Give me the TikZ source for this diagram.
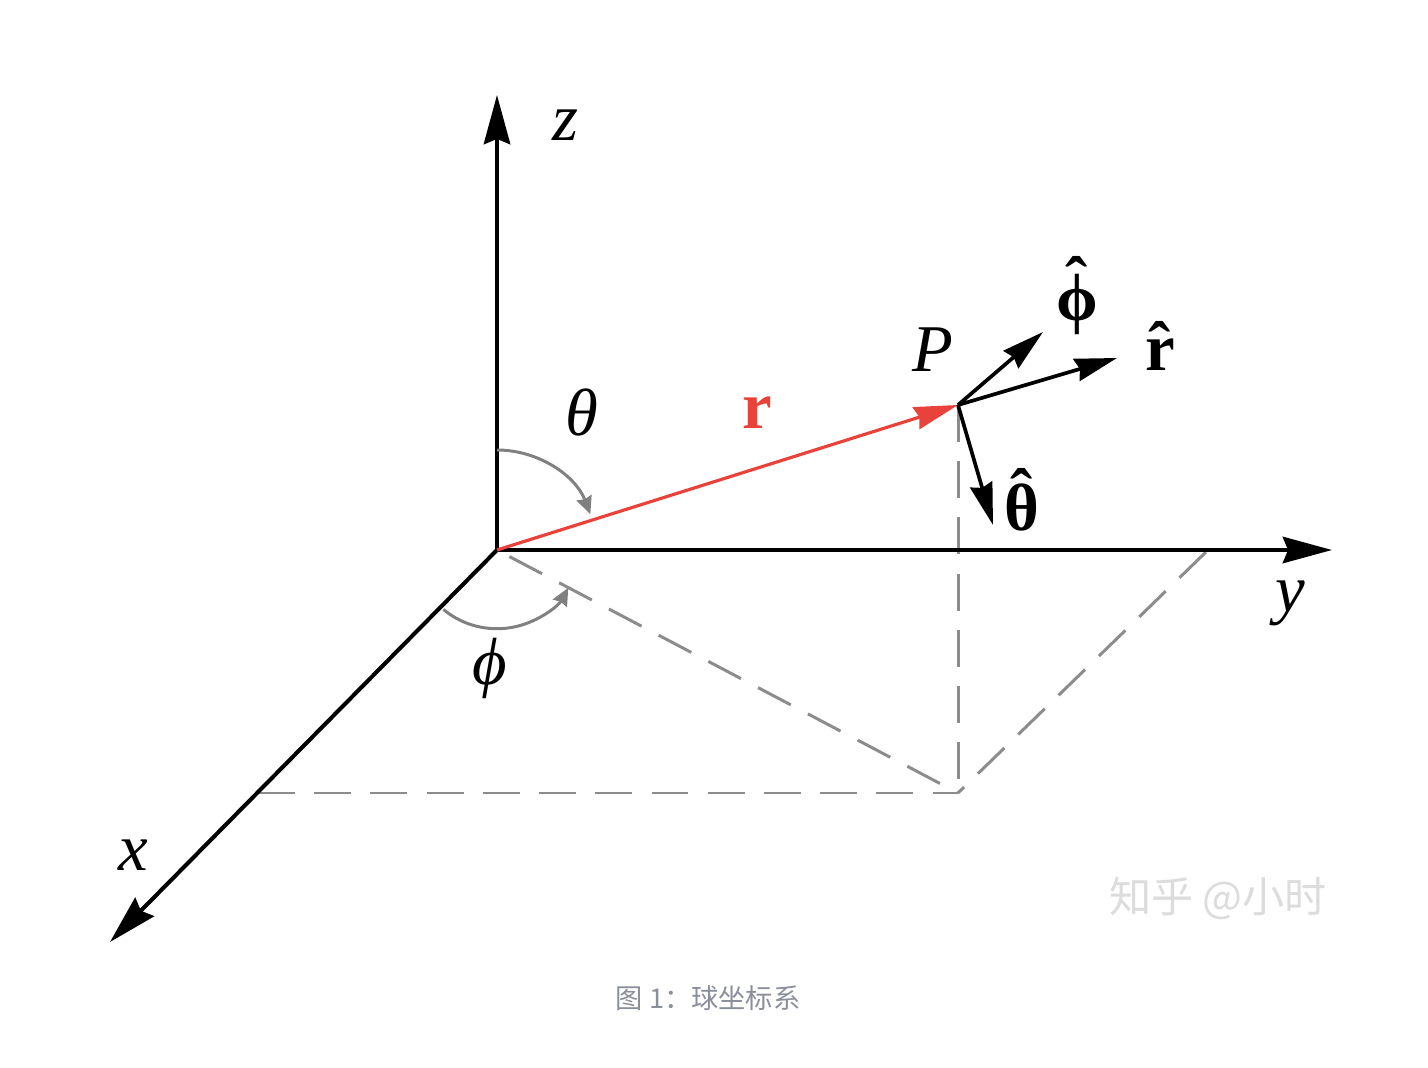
\documentclass[tikz,border=0pt]{standalone}
\usepackage{fontspec}
\setmainfont{Liberation Serif}
\newfontfamily\cjk{Noto Sans CJK SC}
\usetikzlibrary{arrows.meta}
\definecolor{rred}{HTML}{E8423A}
\definecolor{arcgray}{HTML}{808080}
\definecolor{dashgray}{HTML}{8C8C8C}
\definecolor{capgray}{HTML}{8A8F99}
\definecolor{wmgray}{HTML}{DCDCDC}
\newcommand\withhat[2]{{\setbox0\hbox{#2}\leavevmode\rlap{\hbox to\wd0{\hss\raisebox{#1}{ˆ}\hss}}\box0}}
\tikzset{
  axis/.style={line width=2.3pt,-{Stealth[length=28pt,width=15pt,inset=3pt]}},
  unitvec/.style={line width=2.1pt,-{Stealth[length=24pt,width=13pt,inset=2pt]}},
  radvec/.style={line width=1.8pt,rred,-{Stealth[length=25pt,width=13pt,inset=2pt]}},
  proj/.style={line width=1.7pt,dashgray,dash pattern=on 21pt off 11pt},
  anglearc/.style={line width=1.7pt,arcgray,-{Stealth[length=10pt,width=9pt,inset=1pt]}},
  lbl/.style={font=\fontsize{38}{44}\selectfont\itshape,inner sep=0pt},
  blbl/.style={font=\fontsize{38}{44}\selectfont\bfseries,inner sep=0pt},
}
\begin{document}
\begin{tikzpicture}[x=0.02cm,y=-0.02cm]
\useasboundingbox[fill=white] (0,0) rectangle (1428,1068);
% points
\coordinate (O) at (497,550);
\coordinate (Ztip) at (497,95);
\coordinate (Ytip) at (1332,550);
\coordinate (Xtip) at (110,942);
\coordinate (P) at (958,405);
\coordinate (Q) at (958,793);
\coordinate (X1) at (258,793);
\coordinate (Y1) at (1206,552);
\coordinate (Phat) at (1043,332);
\coordinate (Rhat) at (1117,358);
\coordinate (That) at (993,525);
% projection lines
\draw[proj] (P) -- (Q);
\draw[proj] (X1) -- (Q);
\draw[proj] (Y1) -- (Q);
\draw[proj,dash phase=-8pt] (O) -- (Q);
% axes
\draw[axis] (O) -- (Ztip);
\draw[axis] (O) -- (Ytip);
\draw[axis] (O) -- (Xtip);
% angle arcs
\draw[anglearc] (O) ++(-90:100) arc[start angle=-90,end angle=-21,radius=100];
\draw[anglearc] (O) ++(132:80) arc[start angle=132,end angle=27,x radius=80,y radius=75];
% radius vector
\draw[radvec] (O) -- (P);
% unit vectors
\draw[unitvec] (P) -- (Phat);
\draw[unitvec] (P) -- (Rhat);
\draw[unitvec] (P) -- (That);
% labels
\node[lbl] (lz) at (565,125) {z};
\node[lbl] (ly) at (1290,603) {y};
\node[lbl] (lx) at (133,855) {x};
\node[lbl] (lP) at (933,350) {P};
\node[blbl,text=rred] (lr) at (757,413) {r};
\node[lbl] (lth) at (582,412) {θ};
\node[lbl] (lph) at (490,668) {ϕ};
\node[blbl,anchor=base] (lphh) at (1077,320) {\withhat{0.24em}{ϕ}};
\node[blbl,anchor=base] (lrh) at (1160,370) {\withhat{0.02em}{r}};
\node[blbl,anchor=base] (lthh) at (1022,530) {\withhat{0.22em}{θ}};
% watermark and caption
\node[inner sep=0pt,text=wmgray,font=\cjk\fontsize{24}{28}\selectfont] (wm) at (1218,898) {知乎 @小时};
\node[inner sep=0pt,text=capgray,font=\cjk\fontsize{15.5}{18}\selectfont] (cap) at (708,998) {图 1：球坐标系};
\end{tikzpicture}
\end{document}
